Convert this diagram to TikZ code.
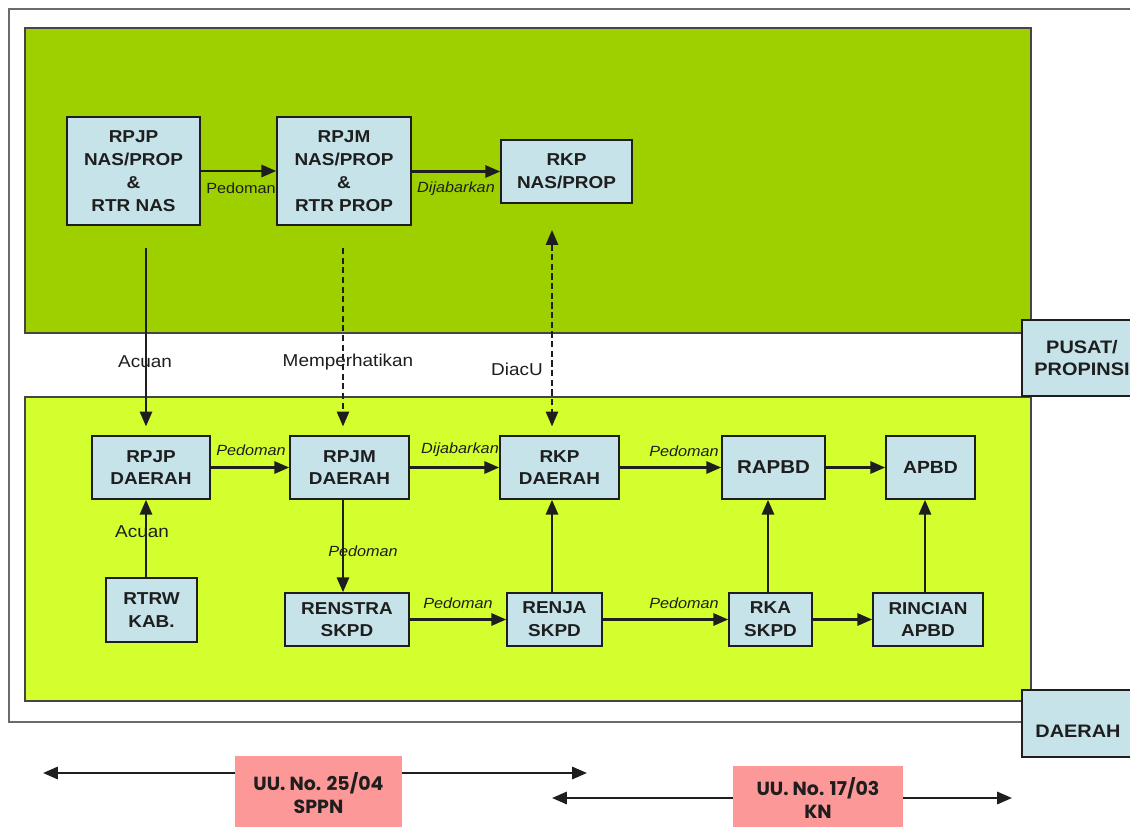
\documentclass[tikz,border=0pt]{standalone}
\usepackage{fontspec}
\setmainfont{Liberation Sans}[FakeStretch=1.1]
\newfontfamily\popfont{Poppins}
\usetikzlibrary{arrows.meta}
\definecolor{topgreen}{RGB}{158,208,0}
\definecolor{lowgreen}{RGB}{212,255,46}
\definecolor{boxblue}{RGB}{198,227,233}
\definecolor{lawred}{RGB}{252,152,152}
\definecolor{framegray}{RGB}{70,70,70}
\definecolor{inkc}{RGB}{30,30,30}
\newcommand{\mkbox}[7]{%
  \node[box,#1,minimum width={(#5-#3)*0.02cm},minimum height={(#6-#4)*0.02cm}]
    (#2) at ({(#3+#5)/2},{(#4+#6)/2}) {#7};}
\tikzset{
  box/.style={draw=inkc, line width=0.9pt, fill=boxblue, text=inkc, inner sep=0pt,
    align=center, font=\bfseries\fontsize{9.8}{13}\selectfont},
  panel/.style={draw=framegray, line width=1.1pt},
  tipc/.tip={Triangle[length=8.5pt,width=7pt]},
  arr/.style={-tipc, line width=1.3pt, draw=inkc},
  dasharr/.style={line width=1.1pt, draw=inkc, dash pattern=on 3.5pt off 2pt},
  elab/.style={font=\fontsize{8.4}{10}\selectfont, text=inkc, inner sep=0pt},
  ilab/.style={font=\itshape\fontsize{8.4}{10}\selectfont, text=inkc, inner sep=0pt},
  glab/.style={font=\fontsize{9.8}{12}\selectfont, text=inkc, inner sep=0pt},
  lawbox/.style={fill=lawred, draw=none, inner sep=0pt, align=center,
    font=\popfont\bfseries\fontsize{10.8}{13}\selectfont, text=inkc},
}
\begin{document}
\begin{tikzpicture}[x=0.02cm, y=-0.02cm]
\useasboundingbox (0,0) rectangle (1130,826);
\clip (0,0) rectangle (1130,826);
\fill[white] (0,0) rectangle (1130,826);
% outer frame and panels
\draw[draw=framegray!80, line width=1.2pt] (9,9) rectangle (1150,722);
\draw[panel, fill=topgreen] (25,28) rectangle (1031,333);
\draw[panel, fill=lowgreen] (25,397) rectangle (1031,701);
% side labels
\mkbox{font=\bfseries\fontsize{10.3}{12}\selectfont}{pusat}{1022}{320}{1142}{396}{PUSAT/\\PROPINSI}
\mkbox{}{daerahbox}{1022}{690}{1136}{757}{}
\node[font=\bfseries\fontsize{10.3}{12}\selectfont, text=inkc, inner sep=0pt] (daerahlbl) at (1078,731) {DAERAH};
% top row
\mkbox{}{rpjpn}{67}{117}{200}{225}{RPJP\\NAS/PROP\\\&\\RTR NAS}
\mkbox{}{rpjmn}{277}{117}{411}{225}{RPJM\\NAS/PROP\\\&\\RTR PROP}
\mkbox{}{rkpn}{501}{140}{632}{203}{RKP\\NAS/PROP}
% lower rows
\mkbox{}{rpjpd}{92}{436}{210}{499}{RPJP\\DAERAH}
\mkbox{}{rpjmd}{290}{436}{409}{499}{RPJM\\DAERAH}
\mkbox{}{rkpd}{500}{436}{619}{499}{RKP\\DAERAH}
\mkbox{font=\bfseries\fontsize{10.6}{13}\selectfont}{rapbd}{722}{436}{825}{499}{RAPBD}
\mkbox{font=\bfseries\fontsize{10}{13}\selectfont}{apbd}{886}{436}{975}{499}{APBD}
\mkbox{}{rtrw}{106}{578}{197}{642}{RTRW\\KAB.}
\mkbox{}{renstra}{285}{593}{409}{646}{RENSTRA\\SKPD}
\mkbox{}{renja}{507}{593}{602}{646}{RENJA\\SKPD}
\mkbox{}{rka}{729}{593}{812}{646}{RKA\\SKPD}
\mkbox{}{rincian}{873}{593}{983}{646}{RINCIAN\\APBD}
% top row arrows
\draw[arr] (rpjpn.east) -- (rpjmn.west);
\draw[arr] (rpjmn.east |- rkpn.west) -- (rkpn.west);
\node[elab] (lp1) at (241,188) {Pedoman};
\node[ilab] (lp2) at (456,189) {Dijabarkan};
% cross-level connectors
\coordinate (s1) at (146,248);
\coordinate (s2) at (343,248);
\coordinate (s3) at (552,230);
\draw[arr, shorten >=5pt] (s1) -- (s1 |- rpjpd.north);
\draw[dasharr, -tipc, shorten >=5pt] (s2) -- (s2 |- rpjmd.north);
\draw[dasharr, tipc-tipc, shorten >=5pt] (s3) -- (s3 |- rkpd.north);
\node[glab] (lg1) at (145,362) {Acuan};
\node[glab] (lg2) at (348,362) {Memperhatikan};
\node[glab] (lg3) at (517,369) {DiacU};
% lower row arrows
\draw[arr] (rpjpd.east) -- (rpjmd.west);
\draw[arr] (rpjmd.east) -- (rkpd.west);
\draw[arr] (rkpd.east) -- (rapbd.west);
\draw[arr] (rapbd.east) -- (apbd.west);
\node[ilab] (lp3) at (251,450) {Pedoman};
\node[ilab] (lp4) at (460,450) {Dijabarkan};
\node[ilab] (lp5) at (684,451) {Pedoman};
% verticals
\draw[arr] (rtrw.north -| s1) -- (rpjpd.south -| s1);
\draw[arr] (rpjmd.south -| s2) -- (renstra.north -| s2);
\draw[arr] (renja.north -| s3) -- (rkpd.south -| s3);
\coordinate (v4) at (768,0);
\coordinate (v5) at (925,0);
\draw[arr] (rka.north -| v4) -- (rapbd.south -| v4);
\draw[arr] (rincian.north -| v5) -- (apbd.south -| v5);
\node[glab] (lg4) at (142,532) {Acuan};
\node[ilab] (lp6) at (363,551) {Pedoman};
% bottom row arrows
\draw[arr] (renstra.east) -- (renja.west);
\draw[arr] (renja.east) -- (rka.west);
\draw[arr] (rka.east) -- (rincian.west);
\node[ilab] (lp7) at (458,603) {Pedoman};
\node[ilab] (lp8) at (684,603) {Pedoman};
% law ranges
\node[lawbox, minimum width={167*0.02cm}, minimum height={74*0.02cm}] (sppn) at (318.5,793) {UU. No. 25/04\\SPPN};
\node[lawbox, minimum width={170*0.02cm}, minimum height={64*0.02cm}] (kn) at (818,798) {UU. No. 17/03\\KN};
\coordinate (a1) at (43,773);
\coordinate (a2) at (587,773);
\coordinate (b1) at (552,798);
\coordinate (b2) at (1012,798);
\draw[arr] (sppn.west |- a1) -- (a1);
\draw[arr] (sppn.east |- a2) -- (a2);
\draw[arr] (kn.west |- b1) -- (b1);
\draw[arr] (kn.east |- b2) -- (b2);
\end{tikzpicture}
\end{document}
